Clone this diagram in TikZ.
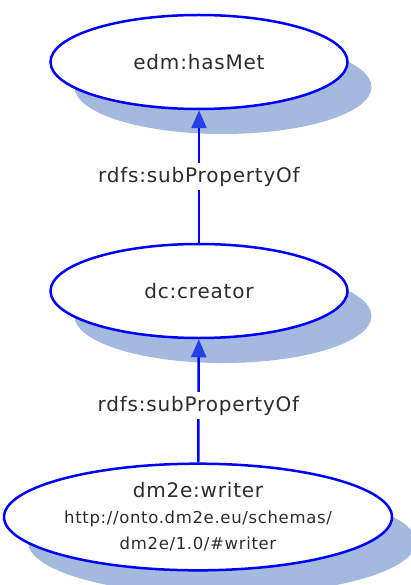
\documentclass[tikz,border=0pt]{standalone}
\usepackage{fontspec}
\setmainfont{DejaVu Sans}[LetterSpace=4]
\usepackage{tikz}
\usetikzlibrary{positioning}
\usetikzlibrary{shapes.geometric,arrows.meta,shadows}
\definecolor{edge}{RGB}{0,0,255}
\definecolor{head}{RGB}{38,64,232}
\definecolor{shade}{RGB}{163,186,222}
\definecolor{ink}{RGB}{45,45,45}

\begin{document}
\begin{tikzpicture}[x=1pt,y=-1pt,
  prop/.style={ellipse,draw=edge,line width=2.5pt,fill=white,text=ink,
    minimum width=297pt,minimum height=94pt,font=\fontsize{20}{26}\selectfont,
    drop shadow={shadow xshift=24pt,shadow yshift=-25pt,fill=shade,opacity=1}},
  sub/.style={draw=edge,line width=2.5pt,-{Triangle[width=15pt,length=18pt,color=head]}},
  rel/.style={fill=white,text=ink,inner sep=4pt,font=\fontsize{20}{24}\selectfont}]
\useasboundingbox (0,0) rectangle (410,585);

%properties
\node (h) at (199,62) [prop] {edm:hasMet};
\node (c) at (199,291) [prop] {dc:creator};
\node (w) at (198,517) [prop,minimum width=378pt,align=center]
  {dm2e:writer\\{\fontsize{16.5}{26}\selectfont http://onto.dm2e.eu/schemas/}\\{\fontsize{16.5}{26}\selectfont dm2e/1.0/\#writer}};

%subproperty links
\draw [sub] (c) -- node[rel] {rdfs:subPropertyOf} (h);
\draw [sub] (w) -- node[rel,pos=0.46] {rdfs:subPropertyOf} (c);
\end{tikzpicture}
\end{document}
